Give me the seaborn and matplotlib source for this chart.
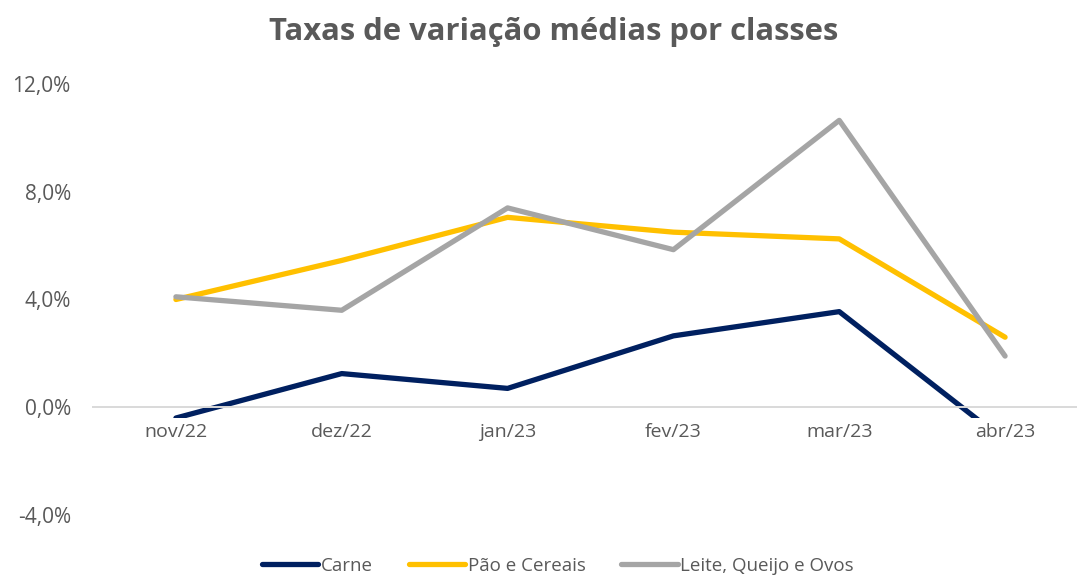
import pandas as pd
import matplotlib.pyplot as plt
import seaborn as sns

# Data (% change)
meses = ["nov/22", "dez/22", "jan/23", "fev/23", "mar/23", "abr/23"]
carne = [-0.4, 1.25, 0.7, 2.65, 3.55, -1.25]
pao_cereais = [4.0, 5.45, 7.05, 6.5, 6.25, 2.6]
leite_queijo_ovos = [4.1, 3.6, 7.4, 5.85, 10.65, 1.9]
yticks = [-4, 0, 4, 8, 12]

series = {
    "Carne": carne,
    "Pão e Cereais": pao_cereais,
    "Leite, Queijo e Ovos": leite_queijo_ovos,
}
cores = {"Carne": "#002060", "Pão e Cereais": "#FFC000", "Leite, Queijo e Ovos": "#A5A5A5"}

df = pd.DataFrame(
    [(m, nome, v) for nome, vals in series.items() for m, v in zip(meses, vals)],
    columns=["mes", "classe", "taxa"],
)

sns.set_style("white")
plt.rcParams["font.family"] = ["Open Sans", "DejaVu Sans"]
cinza = "#595959"

fig = plt.figure(figsize=(10.77, 5.75), dpi=100)
ax = fig.add_axes([93 / 1077, 1 - 515 / 575, (1088 - 93) / 1077, (515 - 84) / 575])

sns.lineplot(data=df, x="mes", y="taxa", hue="classe", palette=cores,
             linewidth=3.8, sort=False, ax=ax)
for ln in ax.lines:
    ln.set_zorder(1)

ax.set_ylim(-4, 12)
ax.set_xlim(-0.5, 5.5)
ax.set_yticks(yticks)
ax.set_yticklabels([f"{v:.1f}%".replace(".", ",") for v in yticks])
ax.set_xticks(range(len(meses)))
ax.set_xticklabels(meses)
ax.set_xlabel("")
ax.set_ylabel("")

for s in ["top", "right", "left"]:
    ax.spines[s].set_visible(False)
ax.spines["bottom"].set_position(("data", 0))
ax.spines["bottom"].set_color("#D9D9D9")
ax.spines["bottom"].set_linewidth(1.4)

# tick marks at category boundaries, labels at centres
ax.set_xticks([i - 0.5 for i in range(len(meses) + 1)], minor=True)
ax.tick_params(axis="x", which="major", length=0, pad=11, labelsize=14, labelcolor=cinza)
ax.tick_params(axis="x", which="minor", length=4.5, width=1.2, color="#D9D9D9", direction="out")
ax.tick_params(axis="y", length=0, pad=16, labelsize=15, labelcolor=cinza)

# axis above lines, labels with white boxes (as in the original)
ax.set_axisbelow(False)
for lbl in ax.get_xticklabels():
    lbl.set_bbox(dict(facecolor="white", edgecolor="none", pad=3.0))

fig.text(554 / 1077, 1 - 32 / 575, "Taxas de variação médias por classes",
         ha="center", va="center", fontsize=22.3, fontweight="bold", color=cinza)

ax.legend(loc="center", bbox_to_anchor=(558 / 1077, 1 - 566 / 575), bbox_transform=fig.transFigure,
          ncol=3, frameon=False, fontsize=13.5, handlelength=3.0, handletextpad=0.15,
          columnspacing=1.9, labelcolor=cinza, borderpad=0, borderaxespad=0)

fig.savefig("out.png", dpi=100)
